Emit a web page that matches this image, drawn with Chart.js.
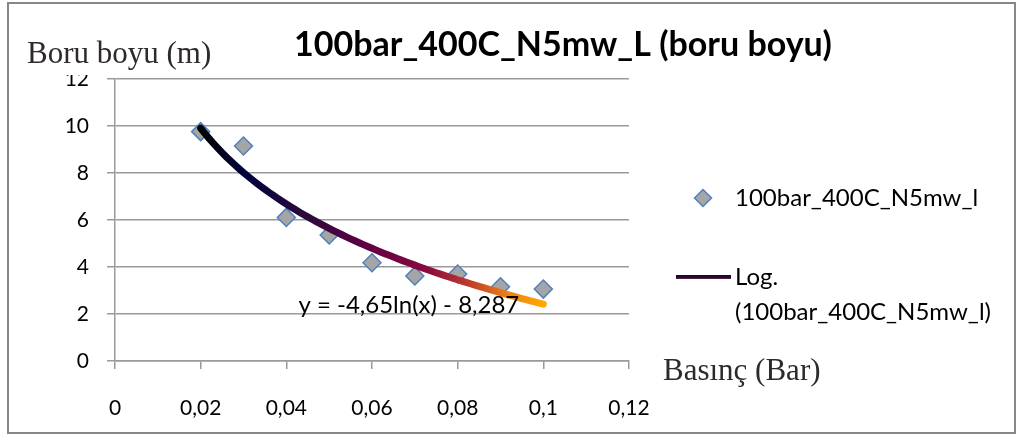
<!DOCTYPE html>
<html>
<head>
<meta charset="utf-8">
<script src="https://cdn.jsdelivr.net/npm/chart.js@4/dist/chart.umd.min.js"></script>
<style>
  html, body { margin: 0; padding: 0; background: #fff; }
  canvas { display: block; }
</style>
</head>
<body>
<canvas id="boruChart" width="1020" height="437"></canvas>
<script>
// olcum noktalari: basinc (bar) ve boru boyu (m)
const basinc = [0.02, 0.03, 0.04, 0.05, 0.06, 0.07, 0.08, 0.09, 0.1];
const boruBoyu = [9.76, 9.15, 6.11, 5.36, 4.18, 3.62, 3.70, 3.16, 3.06];

// eksen etiketleri
const xTickLabels = ['0', '0,02', '0,04', '0,06', '0,08', '0,1', '0,12'];
const yTickLabels = ['0', '2', '4', '6', '8', '10', '12'];

// logaritmik egilim: y = a*ln(x) + b
const trendA = -4.65;
const trendB = -8.287;
const trendFrom = 0.02;
const trendTo = 0.1;

const seriesName = '100bar_400C_N5mw_l';
const trendName = ['Log.', '(100bar_400C_N5mw_l)'];
const chartTitle = '100bar_400C_N5mw_L (boru boyu)';
const equationText = 'y = -4,65ln(x) - 8,287';

var trendPoints = [];
for (var i = 0; i <= 80; i++) {
    var x = trendFrom + (trendTo - trendFrom) * i / 80;
    trendPoints.push({ x: x, y: trendA * Math.log(x) + trendB });
}

function trendGradient(context) {
    var chart = context.chart;
    if (!chart.chartArea) return '#000';
    var xs = chart.scales.x;
    var g = chart.ctx.createLinearGradient(xs.getPixelForValue(trendFrom), 0, xs.getPixelForValue(trendTo), 0);
    g.addColorStop(0, '#000000');
    g.addColorStop(0.13, '#00003c');
    g.addColorStop(0.3, '#2a0a3c');
    g.addColorStop(0.5, '#640044');
    g.addColorStop(0.66, '#8a0a3e');
    g.addColorStop(0.78, '#bc3a2c');
    g.addColorStop(0.9, '#ee8414');
    g.addColorStop(1, '#ffa800');
    return g;
}

const tickFont = { family: 'Lato', size: 21 };
const gridColor = '#9a9a9a';

// baslik, eksen basliklari, gosterge ve denklem
const decorations = {
    id: 'decorations',
    afterDraw: function (chart) {
        var c = chart.ctx;
        var xs = chart.scales.x, ys = chart.scales.y;
        c.save();

        // dis cerceve
        c.strokeStyle = '#878787';
        c.lineWidth = 2;
        c.strokeRect(8, 3, 1007, 430);

        // y ekseni basligi kutusu
        c.fillStyle = '#fff';
        c.fillRect(20, 6, 200, 69);

        c.fillStyle = '#000';
        c.textBaseline = 'middle';
        c.textAlign = 'center';
        c.font = 'bold 34px Lato';
        c.fillText(chartTitle, 563, 45);

        c.fillStyle = '#2e2a2a';
        c.textAlign = 'left';
        c.font = '31px "Liberation Serif"';
        c.fillText('Boru boyu (m)', 27, 55);
        c.fillText('Basınç (Bar)', 663, 372);

        // denklem
        c.fillStyle = '#000';
        c.textAlign = 'center';
        c.font = '24px Lato';
        c.fillText(equationText, xs.getPixelForValue(0.0686), ys.getPixelForValue(2.38));

        // gosterge
        var scatter = chart.data.datasets[1];
        c.fillStyle = scatter.backgroundColor;
        c.strokeStyle = scatter.borderColor;
        c.lineWidth = scatter.borderWidth;
        Chart.helpers.drawPoint(c, { pointStyle: 'rectRot', radius: 8.5, borderWidth: scatter.borderWidth }, 703, 198);

        c.fillStyle = '#000';
        c.textAlign = 'left';
        c.font = '24px Lato';
        c.fillText(seriesName, 735, 198);

        var lg = c.createLinearGradient(0, 275, 0, 280);
        lg.addColorStop(0, '#0a0a30');
        lg.addColorStop(0.6, '#2a0a3c');
        lg.addColorStop(1, '#d0602a');
        c.strokeStyle = lg;
        c.lineWidth = 4;
        c.beginPath();
        c.moveTo(676, 277);
        c.lineTo(731, 277);
        c.stroke();

        c.fillText(trendName[0], 735, 277);
        c.fillText(trendName[1], 735, 312);

        c.restore();
    }
};

var ctx = document.getElementById('boruChart').getContext('2d');
var boruChart = new Chart(ctx, {
    type: 'scatter',
    data: {
        datasets: [{
            type: 'line',
            label: trendName.join(' '),
            data: trendPoints,
            borderColor: trendGradient,
            borderWidth: 7,
            borderCapStyle: 'round',
            borderJoinStyle: 'round',
            pointRadius: 0,
            tension: 0,
            fill: false,
            order: 0
        }, {
            label: seriesName,
            data: basinc.map(function (b, i) { return { x: b, y: boruBoyu[i] }; }),
            pointStyle: 'rectRot',
            pointRadius: 9,
            pointHoverRadius: 9,
            backgroundColor: '#a5a5a5',
            borderColor: '#4f81bd',
            borderWidth: 1.5,
            order: 1
        }]
    },
    options: {
        responsive: false,
        animation: false,
        events: [],
        layout: {
            padding: { top: 79, right: 391, bottom: 0, left: 0 }
        },
        plugins: {
            legend: { display: false },
            title: { display: false },
            tooltip: { enabled: false }
        },
        scales: {
            x: {
                type: 'linear',
                min: 0,
                max: 0.12,
                afterFit: function (scale) { scale.height = 76; },
                afterBuildTicks: function (scale) {
                    scale.ticks = xTickLabels.map(function (t, i) { return { value: i * 0.02 }; });
                },
                ticks: {
                    font: tickFont,
                    color: '#000',
                    padding: 27,
                    maxRotation: 0,
                    autoSkip: false,
                    callback: function (v, i) { return xTickLabels[i]; }
                },
                grid: {
                    drawOnChartArea: false,
                    drawTicks: true,
                    tickLength: 8,
                    color: gridColor,
                    lineWidth: 1.5
                },
                border: { color: gridColor, width: 1.5 }
            },
            y: {
                min: 0,
                max: 12,
                afterFit: function (scale) { scale.width = 115; },
                afterBuildTicks: function (scale) {
                    scale.ticks = yTickLabels.map(function (t, i) { return { value: i * 2 }; });
                },
                ticks: {
                    font: tickFont,
                    color: '#000',
                    padding: 18,
                    callback: function (v, i) { return yTickLabels[i]; }
                },
                grid: {
                    drawTicks: true,
                    tickLength: 8,
                    color: gridColor,
                    lineWidth: 1.5
                },
                border: { color: gridColor, width: 1.5 }
            }
        }
    },
    plugins: [decorations]
});
</script>
</body>
</html>
